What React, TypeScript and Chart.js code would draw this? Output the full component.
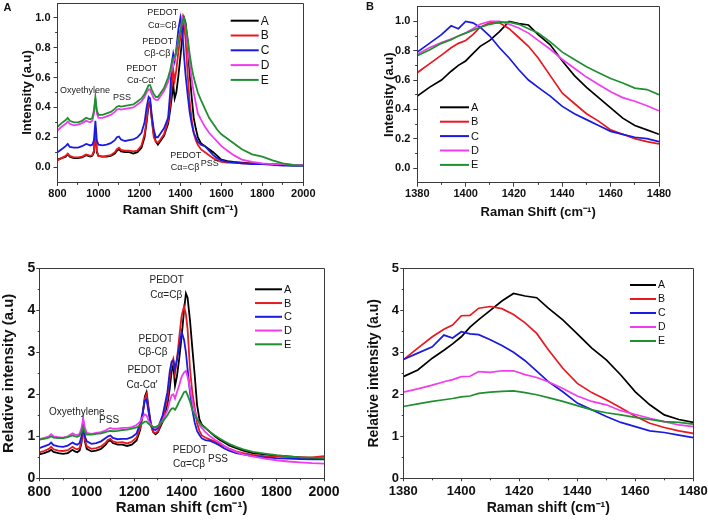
import React, { useEffect, useRef } from 'react';
import { Chart, registerables } from 'chart.js';

Chart.register(...registerables);

const FONT = "Arial, 'Liberation Sans', Helvetica, sans-serif";
const AXIS_COLOR = '#3a3a3a';

const SERIES_NAMES = ['A', 'B', 'C', 'D', 'E'];
const SERIES_COLORS = ['#000000', '#e8191f', '#1a1ae0', '#f03cf0', '#1f8f2f'];

// Raman shift grid for the full spectra (cm-1)
const FULL_X = [
  800, 820, 840, 850, 860, 880, 900, 920, 940, 950,
  960, 970, 978, 985, 992, 1000, 1020, 1040, 1060, 1080,
  1090, 1100, 1110, 1130, 1150, 1170, 1190, 1210, 1225, 1235,
  1245, 1252, 1260, 1270, 1280, 1290, 1300, 1320, 1340, 1350,
  1358, 1365, 1372, 1380, 1390, 1400, 1410, 1418, 1425, 1435,
  1445, 1455, 1465, 1475, 1485, 1500, 1520, 1540, 1560, 1580,
  1600, 1630, 1660, 1700, 1750, 1800, 1850, 1900, 1950, 2000,
];

// Panel A: normalised intensity
const NORM_A = [
  0.05, 0.06, 0.07, 0.085, 0.07, 0.06, 0.06, 0.065, 0.08, 0.075,
  0.07, 0.075, 0.1, 0.26, 0.1, 0.075, 0.07, 0.07, 0.075, 0.09,
  0.11, 0.12, 0.105, 0.1, 0.1, 0.09, 0.1, 0.13, 0.2, 0.3,
  0.42, 0.43, 0.33, 0.22, 0.17, 0.15, 0.17, 0.21, 0.29, 0.38,
  0.47, 0.55, 0.46, 0.5, 0.61, 0.74, 0.88, 1.0, 0.97, 0.84,
  0.63, 0.47, 0.33, 0.26, 0.2, 0.16, 0.14, 0.12, 0.1, 0.075,
  0.05, 0.04, 0.035, 0.03, 0.025, 0.02, 0.02, 0.015, 0.01, 0.01,
];
const NORM_B = [
  0.045, 0.06, 0.075, 0.09, 0.075, 0.065, 0.065, 0.07, 0.085, 0.08,
  0.075, 0.08, 0.11, 0.26, 0.11, 0.075, 0.07, 0.075, 0.08, 0.1,
  0.12, 0.13, 0.115, 0.11, 0.11, 0.105, 0.11, 0.145, 0.22, 0.32,
  0.43, 0.44, 0.32, 0.2, 0.17, 0.165, 0.18, 0.22, 0.31, 0.42,
  0.55, 0.65, 0.58, 0.65, 0.77, 0.87, 1.0, 0.95, 0.86, 0.63,
  0.44, 0.32, 0.23, 0.18, 0.15, 0.12, 0.1, 0.08, 0.06, 0.045,
  0.035, 0.03, 0.03, 0.025, 0.025, 0.02, 0.02, 0.015, 0.015, 0.015,
];
const NORM_C = [
  0.1, 0.12, 0.14, 0.155, 0.135, 0.13, 0.13, 0.14, 0.155, 0.15,
  0.145, 0.15, 0.18, 0.31, 0.18, 0.15, 0.145, 0.15, 0.16, 0.18,
  0.2, 0.205, 0.185, 0.175, 0.18, 0.185, 0.2, 0.23, 0.3, 0.4,
  0.47, 0.46, 0.35, 0.25, 0.2, 0.2, 0.22, 0.26, 0.33, 0.5,
  0.7, 0.76, 0.71, 0.79, 0.92, 1.0, 0.9, 0.74, 0.62, 0.49,
  0.37, 0.29, 0.23, 0.2, 0.17, 0.15, 0.14, 0.11, 0.08, 0.06,
  0.045, 0.035, 0.03, 0.025, 0.02, 0.02, 0.015, 0.01, 0.01, 0.01,
];
const NORM_D = [
  0.245, 0.27, 0.29, 0.305, 0.29, 0.28, 0.285, 0.295, 0.31, 0.305,
  0.3, 0.31, 0.36, 0.46, 0.36, 0.33, 0.33, 0.34, 0.35, 0.37,
  0.385, 0.39, 0.385, 0.39, 0.395, 0.4, 0.42, 0.44, 0.47, 0.5,
  0.52, 0.52, 0.49, 0.46, 0.45, 0.45, 0.47, 0.51, 0.57, 0.62,
  0.67, 0.71, 0.72, 0.775, 0.855, 0.92, 1.0, 0.98, 0.94, 0.83,
  0.7, 0.59, 0.5, 0.43, 0.36, 0.32, 0.27, 0.23, 0.2, 0.17,
  0.14, 0.11, 0.08, 0.05, 0.035, 0.025, 0.02, 0.02, 0.015, 0.015,
];
const NORM_E = [
  0.27, 0.295, 0.315, 0.33, 0.31, 0.3, 0.3, 0.31, 0.33, 0.325,
  0.32, 0.33, 0.38, 0.47, 0.38, 0.35, 0.35, 0.36, 0.37, 0.39,
  0.405, 0.41, 0.405, 0.41, 0.415, 0.42, 0.44, 0.46, 0.49, 0.52,
  0.55, 0.55, 0.52, 0.49, 0.47, 0.47, 0.49, 0.53, 0.6, 0.65,
  0.7, 0.73, 0.74, 0.765, 0.85, 0.92, 0.98, 1.0, 0.96, 0.87,
  0.76, 0.67, 0.6, 0.55, 0.5, 0.45, 0.39, 0.33, 0.29, 0.25,
  0.22, 0.19, 0.16, 0.12, 0.085, 0.07, 0.045, 0.025, 0.015, 0.01,
];

// Panel C: relative intensity
const REL_A = [
  0.57, 0.6, 0.64, 0.68, 0.63, 0.6, 0.58, 0.6, 0.68, 0.64,
  0.62, 0.66, 0.85, 1.32, 0.88, 0.7, 0.64, 0.66, 0.7, 0.8,
  0.88, 0.9, 0.84, 0.8, 0.8, 0.77, 0.8, 0.9, 1.15, 1.5,
  1.95, 2.05, 1.7, 1.3, 1.1, 1.05, 1.1, 1.35, 1.75, 2.15,
  2.55, 2.7, 2.2, 2.42, 2.86, 3.37, 4.0, 4.4, 4.3, 3.77,
  3.1, 2.46, 1.75, 1.4, 1.28, 1.2, 1.1, 1.0, 0.92, 0.85,
  0.78, 0.72, 0.66, 0.6, 0.57, 0.54, 0.52, 0.5, 0.48, 0.47,
];
const REL_B = [
  0.62, 0.65, 0.7, 0.75, 0.69, 0.66, 0.65, 0.67, 0.75, 0.71,
  0.69, 0.72, 0.9, 1.35, 0.92, 0.76, 0.7, 0.72, 0.76, 0.85,
  0.92, 0.94, 0.88, 0.85, 0.86, 0.83, 0.87, 0.97, 1.2, 1.5,
  1.9, 2.0, 1.65, 1.25, 1.1, 1.08, 1.12, 1.4, 1.9, 2.4,
  2.75, 2.85, 2.5, 2.82, 3.37, 3.87, 4.09, 3.9, 3.55, 2.62,
  2.04, 1.68, 1.31, 1.13, 1.02, 0.97, 0.92, 0.88, 0.82, 0.76,
  0.71, 0.64, 0.6, 0.56, 0.53, 0.52, 0.51, 0.5, 0.5, 0.53,
];
const REL_C = [
  0.72, 0.76, 0.8, 0.85, 0.79, 0.76, 0.75, 0.78, 0.85, 0.82,
  0.8, 0.84, 1.0, 1.38, 1.0, 0.88, 0.82, 0.84, 0.88, 0.96,
  1.0, 1.02, 0.96, 0.93, 0.94, 0.94, 0.98, 1.07, 1.3, 1.55,
  1.85, 1.88, 1.6, 1.3, 1.17, 1.15, 1.2, 1.5, 2.05, 2.55,
  2.78, 2.8, 2.6, 2.83, 3.13, 3.49, 3.3, 3.0, 2.6, 2.06,
  1.63, 1.33, 1.13, 1.03, 0.95, 0.91, 0.89, 0.84, 0.78, 0.71,
  0.66, 0.6, 0.57, 0.53, 0.5, 0.48, 0.47, 0.46, 0.45, 0.45,
];
const REL_D = [
  0.93, 0.96, 1.0, 1.05, 1.0, 0.98, 0.97, 1.0, 1.07, 1.04,
  1.03, 1.06, 1.2, 1.42, 1.2, 1.08, 1.06, 1.08, 1.1, 1.14,
  1.18, 1.2, 1.18, 1.18, 1.2, 1.2, 1.22, 1.27, 1.35, 1.45,
  1.52, 1.5, 1.38, 1.28, 1.22, 1.2, 1.24, 1.38, 1.62, 1.85,
  1.98, 2.0, 1.9, 2.05, 2.22, 2.42, 2.52, 2.56, 2.42, 2.14,
  1.83, 1.61, 1.43, 1.27, 1.2, 1.1, 1.0, 0.92, 0.85, 0.77,
  0.7, 0.63, 0.57, 0.52, 0.47, 0.43, 0.4, 0.38, 0.36, 0.35,
];
const REL_E = [
  0.92, 0.94, 0.97, 1.0, 0.97, 0.96, 0.96, 0.98, 1.02, 1.0,
  0.99, 1.02, 1.1, 1.22, 1.1, 1.04, 1.04, 1.06, 1.07, 1.1,
  1.12, 1.13, 1.12, 1.13, 1.15, 1.16, 1.18, 1.21, 1.26, 1.31,
  1.35, 1.35, 1.3, 1.25, 1.22, 1.22, 1.25, 1.35, 1.5, 1.6,
  1.66, 1.67, 1.63, 1.71, 1.83, 1.94, 2.05, 2.07, 1.98, 1.83,
  1.63, 1.51, 1.4, 1.33, 1.26, 1.2, 1.1, 1.02, 0.95, 0.88,
  0.82, 0.75, 0.69, 0.63, 0.59, 0.55, 0.52, 0.5, 0.49, 0.48,
];

// Zoomed region (1380-1480 cm-1)
const ZOOM_X = [1380, 1385, 1390, 1394, 1397, 1400, 1403, 1406, 1410, 1414, 1418, 1422, 1426, 1430, 1435, 1440, 1445, 1450, 1455, 1460, 1465, 1470, 1475, 1480];

const ZNORM_A = [0.49, 0.55, 0.6, 0.66, 0.7, 0.73, 0.78, 0.83, 0.87, 0.93, 1.0, 0.985, 0.975, 0.91, 0.84, 0.73, 0.63, 0.55, 0.48, 0.41, 0.34, 0.29, 0.26, 0.23];
const ZNORM_B = [0.65, 0.71, 0.77, 0.82, 0.85, 0.87, 0.91, 0.96, 0.99, 0.99, 0.95, 0.89, 0.83, 0.75, 0.63, 0.51, 0.44, 0.37, 0.32, 0.26, 0.23, 0.2, 0.18, 0.165];
const ZNORM_C = [0.79, 0.85, 0.91, 0.97, 0.95, 1.0, 0.99, 0.96, 0.9, 0.82, 0.75, 0.67, 0.6, 0.55, 0.49, 0.42, 0.37, 0.33, 0.29, 0.25, 0.23, 0.21, 0.2, 0.18];
const ZNORM_D = [0.775, 0.82, 0.855, 0.88, 0.9, 0.92, 0.95, 0.98, 1.0, 1.0, 0.98, 0.955, 0.92, 0.87, 0.81, 0.74, 0.68, 0.62, 0.57, 0.52, 0.48, 0.455, 0.425, 0.39];
const ZNORM_E = [0.765, 0.805, 0.85, 0.875, 0.9, 0.92, 0.94, 0.96, 0.98, 0.995, 0.995, 0.98, 0.95, 0.92, 0.86, 0.79, 0.74, 0.69, 0.65, 0.61, 0.58, 0.545, 0.535, 0.5];

const ZREL_A = [2.42, 2.58, 2.86, 3.05, 3.2, 3.37, 3.6, 3.78, 4.0, 4.22, 4.4, 4.34, 4.3, 4.05, 3.77, 3.44, 3.1, 2.82, 2.46, 2.06, 1.75, 1.51, 1.4, 1.33];
const ZREL_B = [2.82, 3.1, 3.37, 3.55, 3.65, 3.87, 3.88, 4.05, 4.09, 4.04, 3.9, 3.7, 3.45, 3.06, 2.62, 2.26, 2.04, 1.87, 1.68, 1.48, 1.31, 1.21, 1.13, 1.07];
const ZREL_C = [2.83, 2.98, 3.13, 3.41, 3.34, 3.49, 3.44, 3.42, 3.3, 3.16, 3.0, 2.8, 2.55, 2.3, 2.06, 1.79, 1.63, 1.47, 1.33, 1.23, 1.13, 1.09, 1.03, 0.97];
const ZREL_D = [2.05, 2.13, 2.22, 2.3, 2.35, 2.42, 2.43, 2.54, 2.52, 2.56, 2.56, 2.47, 2.4, 2.3, 2.14, 1.96, 1.83, 1.75, 1.61, 1.52, 1.43, 1.35, 1.27, 1.23];
const ZREL_E = [1.71, 1.77, 1.83, 1.87, 1.9, 1.94, 1.96, 2.02, 2.05, 2.07, 2.08, 2.04, 1.99, 1.92, 1.83, 1.73, 1.63, 1.56, 1.51, 1.45, 1.4, 1.35, 1.33, 1.29];

// Tick labels
const FULL_X_TICKS = [800, 1000, 1200, 1400, 1600, 1800, 2000];
const ZOOM_X_TICKS = [1380, 1400, 1420, 1440, 1460, 1480];
const NORM_Y_TICKS = [0, 0.2, 0.4, 0.6, 0.8, 1.0];
const REL_Y_TICKS = [0, 1, 2, 3, 4, 5];

type Ann = { text: string; x: number; y: number; align: CanvasTextAlign };

type Spec = {
  key: string;
  xs: number[];
  series: number[][];
  area: { l: number; t: number; r: number; b: number };
  xMin: number; xMax: number; xTicks: number[]; xMinor: number;
  yMin: number; yMax: number; yTicks: number[]; yMinor: number; yDec: number;
  xTitle: string; yTitle: string; xTitleY: number; yTitleX: number;
  tickSize: number; titleSize: number; tickLen: number; xPad: number; yPad: number;
  lineWidth: number;
  annSize: number; anns: Ann[];
  legend: { dx: number; dy: number; gap: number; len: number; size: number };
};

const PANEL_A: Spec = {
  key: 'A', xs: FULL_X, series: [NORM_A, NORM_B, NORM_C, NORM_D, NORM_E],
  area: { l: 57.5, t: 3, r: 303.3, b: 182 },
  xMin: 800, xMax: 2000, xTicks: FULL_X_TICKS, xMinor: 100,
  yMin: -0.1, yMax: 1.1, yTicks: NORM_Y_TICKS, yMinor: 0.1, yDec: 1,
  xTitle: 'Raman Shift (cm\u207B\u00B9)', yTitle: 'Intensity (a.u)', xTitleY: 210.7, yTitleX: 27.8,
  tickSize: 11, titleSize: 13, tickLen: 4, xPad: 1, yPad: 3,
  lineWidth: 1.8,
  annSize: 9,
  anns: [
    { text: 'Oxyethylene', x: 812, y: 0.515, align: 'left' },
    { text: 'PSS', x: 1071, y: 0.468, align: 'left' },
    { text: 'PEDOT', x: 1211, y: 0.664, align: 'center' },
    { text: "C\u03B1-C\u03B1'", x: 1208, y: 0.582, align: 'center' },
    { text: 'PEDOT', x: 1289, y: 0.839, align: 'center' },
    { text: 'C\u03B2-C\u03B2', x: 1287, y: 0.76, align: 'center' },
    { text: 'PEDOT', x: 1314, y: 1.034, align: 'center' },
    { text: 'C\u03B1=C\u03B2', x: 1312, y: 0.951, align: 'center' },
    { text: 'PEDOT', x: 1426, y: 0.079, align: 'center' },
    { text: 'C\u03B1=C\u03B2', x: 1423, y: 0.0, align: 'center' },
    { text: 'PSS', x: 1499, y: 0.025, align: 'left' },
  ],
  legend: { dx: 173.2, dy: 17.7, gap: 14.8, len: 28, size: 12 },
};

const PANEL_B: Spec = {
  key: 'B', xs: ZOOM_X, series: [ZNORM_A, ZNORM_B, ZNORM_C, ZNORM_D, ZNORM_E],
  area: { l: 417.3, t: 6.7, r: 659, b: 182.7 },
  xMin: 1380, xMax: 1480, xTicks: ZOOM_X_TICKS, xMinor: 10,
  yMin: -0.1, yMax: 1.1, yTicks: NORM_Y_TICKS, yMinor: 0.1, yDec: 1,
  xTitle: 'Raman Shift (cm\u207B\u00B9)', yTitle: 'Intensity (a.u)', xTitleY: 212, yTitleX: 389,
  tickSize: 11, titleSize: 13, tickLen: 4, xPad: 0.5, yPad: 3,
  lineWidth: 1.7,
  annSize: 9, anns: [],
  legend: { dx: 22.7, dy: 100.6, gap: 14.4, len: 29, size: 11 },
};

const PANEL_C: Spec = {
  key: 'C', xs: FULL_X, series: [REL_A, REL_B, REL_C, REL_D, REL_E],
  area: { l: 39.3, t: 268.3, r: 324, b: 478.3 },
  xMin: 800, xMax: 2000, xTicks: FULL_X_TICKS, xMinor: 100,
  yMin: 0, yMax: 5, yTicks: REL_Y_TICKS, yMinor: 0.5, yDec: 0,
  xTitle: 'Raman shift (cm\u207B\u00B9)', yTitle: 'Relative intensity (a.u)', xTitleY: 508.3, yTitleX: 8.8,
  tickSize: 14, titleSize: 15, tickLen: 3, xPad: 2, yPad: 1,
  lineWidth: 1.8,
  annSize: 10,
  anns: [
    { text: 'Oxyethylene', x: 841, y: 1.571, align: 'left' },
    { text: 'PSS', x: 1052, y: 1.388, align: 'left' },
    { text: 'PEDOT', x: 1244, y: 2.579, align: 'center' },
    { text: "C\u03B1-C\u03B1'", x: 1233, y: 2.22, align: 'center' },
    { text: 'PEDOT', x: 1291, y: 3.317, align: 'center' },
    { text: 'C\u03B2-C\u03B2', x: 1279, y: 3.0, align: 'center' },
    { text: 'PEDOT', x: 1337, y: 4.705, align: 'center' },
    { text: 'C\u03B1=C\u03B2', x: 1335, y: 4.364, align: 'center' },
    { text: 'PEDOT', x: 1435, y: 0.674, align: 'center' },
    { text: 'C\u03B1=C\u03B2', x: 1431, y: 0.34, align: 'center' },
    { text: 'PSS', x: 1511, y: 0.452, align: 'left' },
  ],
  legend: { dx: 215.7, dy: 21, gap: 13.75, len: 27, size: 11 },
};

const PANEL_D: Spec = {
  key: 'D', xs: ZOOM_X, series: [ZREL_A, ZREL_B, ZREL_C, ZREL_D, ZREL_E],
  area: { l: 403.3, t: 268.3, r: 693.3, b: 478.3 },
  xMin: 1380, xMax: 1480, xTicks: ZOOM_X_TICKS, xMinor: 10,
  yMin: 0, yMax: 5, yTicks: REL_Y_TICKS, yMinor: 0.5, yDec: 0,
  xTitle: 'Raman shift (cm\u207B\u00B9)', yTitle: 'Relative intensity (a.u)', xTitleY: 508.3, yTitleX: 374,
  tickSize: 13, titleSize: 14, tickLen: 3, xPad: 2.6, yPad: 1.3,
  lineWidth: 1.7,
  annSize: 10, anns: [],
  legend: { dx: 226.7, dy: 16.7, gap: 14, len: 26, size: 10.5 },
};

const PANELS = [PANEL_A, PANEL_B, PANEL_C, PANEL_D];

const ML = 80, MT = 30, MR = 50, MB = 50;

function alignPx(p: number) {
  return Math.round(p - 0.5) + 0.5;
}

function Panel({ spec }: { spec: Spec }) {
  const ref = useRef<HTMLCanvasElement | null>(null);
  const cl = Math.floor(spec.area.l) - ML;
  const ct = Math.floor(spec.area.t) - MT;
  const cw = Math.ceil(spec.area.r) + MR - cl;
  const ch = Math.ceil(spec.area.b) + MB - ct;

  useEffect(() => {
    if (!ref.current) return;
    const yWidth = spec.area.l - cl;
    const padTop = spec.area.t - ct;
    const padRight = cl + cw - spec.area.r;
    const xHeight = ct + ch - spec.area.b;
    const titleLH = spec.titleSize * 1.2;
    const yTitlePad = spec.yTitleX - cl - titleLH / 2;
    const xTitlePad = ct + ch - spec.xTitleY - titleLH / 2;

    const datasets = spec.series.map((vals, i) => ({
      label: SERIES_NAMES[i],
      data: spec.xs.map((x, j) => ({ x, y: vals[j] })),
      borderColor: SERIES_COLORS[i],
      backgroundColor: SERIES_COLORS[i],
      borderWidth: spec.lineWidth,
      pointRadius: 0,
      tension: 0,
      order: spec.series.length - 1 - i,
    }));

    const overlay = {
      id: 'overlay' + spec.key,
      afterDraw(chart: any) {
        const { ctx, chartArea: ca, scales } = chart;
        const xs = scales.x;
        const ys = scales.y;
        ctx.save();
        ctx.strokeStyle = AXIS_COLOR;
        ctx.lineWidth = 1;
        const l = alignPx(ca.left), r = alignPx(ca.right), t = alignPx(ca.top), b = alignPx(ca.bottom);
        ctx.beginPath();
        ctx.moveTo(l, b); ctx.lineTo(l, t); ctx.lineTo(r, t); ctx.lineTo(r, b); ctx.lineTo(l, b);
        ctx.stroke();
        const minorLen = spec.tickLen * 0.6;
        ctx.beginPath();
        const nx = Math.round((spec.xMax - spec.xMin) / spec.xMinor);
        for (let k = 1; k < nx; k++) {
          const v = spec.xMin + k * spec.xMinor;
          if (spec.xTicks.some((tv) => Math.abs(tv - v) < 1e-6)) continue;
          const px = alignPx(xs.getPixelForValue(v));
          ctx.moveTo(px, b); ctx.lineTo(px, b + minorLen);
        }
        const ny = Math.round((spec.yMax - spec.yMin) / spec.yMinor);
        for (let k = 1; k < ny; k++) {
          const v = spec.yMin + k * spec.yMinor;
          if (spec.yTicks.some((tv) => Math.abs(tv - v) < 1e-6)) continue;
          const py = alignPx(ys.getPixelForValue(v));
          ctx.moveTo(l, py); ctx.lineTo(l - minorLen, py);
        }
        ctx.stroke();
        ctx.font = `${spec.annSize}px ${FONT}`;
        ctx.fillStyle = '#222';
        ctx.textBaseline = 'middle';
        for (const a of spec.anns) {
          ctx.textAlign = a.align;
          ctx.fillText(a.text, xs.getPixelForValue(a.x), ys.getPixelForValue(a.y));
        }
        const L = spec.legend;
        ctx.font = `${L.size}px ${FONT}`;
        ctx.textAlign = 'left';
        ctx.lineWidth = 2;
        SERIES_NAMES.forEach((name, i) => {
          const y = ca.top + L.dy + i * L.gap;
          const x0 = ca.left + L.dx;
          ctx.strokeStyle = SERIES_COLORS[i];
          ctx.beginPath();
          ctx.moveTo(x0, y); ctx.lineTo(x0 + L.len, y);
          ctx.stroke();
          ctx.fillStyle = '#111';
          ctx.fillText(name, x0 + L.len + 2, y + 0.5);
        });
        ctx.restore();
      },
    };

    const tickFont = { family: FONT, size: spec.tickSize, weight: 'bold' as const };
    const titleFont = { family: FONT, size: spec.titleSize, weight: 'bold' as const };
    const grid = {
      display: true,
      drawOnChartArea: false,
      drawTicks: true,
      tickLength: spec.tickLen,
      color: AXIS_COLOR,
      lineWidth: 1,
    };
    const border = { display: true, color: AXIS_COLOR, width: 1 };

    const chart = new Chart(ref.current, {
      type: 'line',
      data: { datasets: datasets as any },
      options: {
        animation: false,
        responsive: false,
        maintainAspectRatio: false,
        events: [],
        parsing: false as any,
        layout: { padding: { left: 0, top: padTop, right: padRight, bottom: 0 } },
        plugins: { legend: { display: false }, tooltip: { enabled: false }, title: { display: false } },
        scales: {
          x: {
            type: 'linear',
            min: spec.xMin,
            max: spec.xMax,
            afterBuildTicks: (s: any) => { s.ticks = spec.xTicks.map((v) => ({ value: v })); },
            ticks: {
              autoSkip: false,
              maxRotation: 0,
              minRotation: 0,
              font: tickFont,
              color: '#111',
              padding: spec.xPad,
              callback: (v: any) => String(Math.round(Number(v))),
            },
            grid,
            border,
            title: { display: true, text: spec.xTitle, font: titleFont, color: '#111', padding: { top: 0, bottom: xTitlePad } },
            afterFit: (s: any) => { s.height = xHeight; },
          } as any,
          y: {
            type: 'linear',
            min: spec.yMin,
            max: spec.yMax,
            afterBuildTicks: (s: any) => { s.ticks = spec.yTicks.map((v) => ({ value: v })); },
            ticks: {
              autoSkip: false,
              font: tickFont,
              color: '#111',
              padding: spec.yPad,
              callback: (v: any) => Number(v).toFixed(spec.yDec),
            },
            grid,
            border,
            title: { display: true, text: spec.yTitle, font: titleFont, color: '#111', padding: { top: yTitlePad, bottom: 0 } },
            afterFit: (s: any) => { s.width = yWidth; },
          } as any,
        },
      },
      plugins: [overlay],
    });
    return () => chart.destroy();
  }, []);

  return (
    <canvas
      ref={ref}
      width={cw}
      height={ch}
      style={{ position: 'absolute', left: cl, top: ct, width: cw, height: ch }}
    />
  );
}

export default function App() {
  return (
    <div style={{ position: 'fixed', left: 0, top: 0, width: 708, height: 520, overflow: 'hidden', background: '#ffffff' }}>
      {PANELS.map((p) => (
        <Panel key={p.key} spec={p} />
      ))}
      <div style={{ position: 'absolute', left: 3.5, top: 1.5, font: `bold 11px ${FONT}`, lineHeight: '11px', color: '#111' }}>A</div>
      <div style={{ position: 'absolute', left: 366, top: 1.2, font: `bold 11px ${FONT}`, lineHeight: '11px', color: '#111' }}>B</div>
    </div>
  );
}
